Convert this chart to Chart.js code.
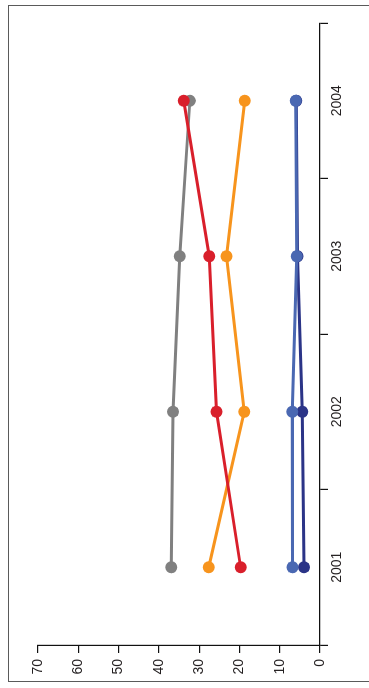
<!DOCTYPE html>
<html>
<head>
<meta charset="utf-8">
<script src="https://cdn.jsdelivr.net/npm/chart.js@4"></script>
<style>
html,body{margin:0;padding:0;background:#fff;width:369px;height:688px;overflow:hidden;}
#frame{position:absolute;left:8px;top:5px;width:400px;height:677px;border:1.6px solid #5a5a5a;box-sizing:border-box;}
#wrap{position:absolute;left:0;top:0;width:688px;height:369px;transform-origin:0 0;transform:translate(0,688px) rotate(-90deg);}
</style>
</head>
<body>
<div id="frame"></div>
<div id="wrap"><canvas id="c" width="688" height="369"></canvas></div>
<script>
const categories = ['2001','2002','2003','2004'];
const grayValues = [36.9, 36.5, 34.8, 32.3];
const redValues = [19.7, 25.7, 27.5, 33.8];
const orangeValues = [27.6, 18.8, 23.2, 18.7];
const blueValues = [6.8, 6.9, 5.8, 6.0];
const navyValues = [4.0, 4.4, 5.6, 5.9];
const valueTicks = [0,10,20,30,40,50,60,70];

function ds(data, color, order){
  return {data, borderColor:color, backgroundColor:color, pointBackgroundColor:color,
    pointBorderWidth:0, pointRadius:6, pointHoverRadius:6, borderWidth:3, tension:0, order};
}
const font = {family:'"Liberation Sans", Arial, sans-serif', size:14};
new Chart(document.getElementById('c'), {
  type:'line',
  data:{labels:categories, datasets:[
    ds(redValues,'#d91f2b',0),
    ds(grayValues,'#808080',1),
    ds(orangeValues,'#f7941d',2),
    ds(blueValues,'#4a68b2',3),
    ds(navyValues,'#2b3487',4)
  ]},
  options:{
    responsive:false, animation:false,
    layout:{padding:{left:0,right:23,top:38,bottom:0}},
    plugins:{legend:{display:false},tooltip:{enabled:false}},
    scales:{
      x:{offset:true,
        grid:{offset:true,drawOnChartArea:false,drawTicks:true,tickLength:8,color:'#111',lineWidth:1.2},
        border:{display:true,color:'#111',width:1.2},
        ticks:{font,color:'#231f20',padding:1,maxRotation:0},
        afterFit:(s)=>{s.height=49;}
      },
      y:{min:0,max:70,
        afterBuildTicks:(s)=>{s.ticks=valueTicks.map(v=>({value:v}));},
        grid:{drawOnChartArea:false,drawTicks:true,tickLength:8,color:'#111',lineWidth:1.2},
        border:{display:true,color:'#111',width:1.2},
        ticks:{font,color:'#231f20',padding:6},
        afterFit:(s)=>{s.width=43;}
      }
    }
  }
});
</script>
</body>
</html>
